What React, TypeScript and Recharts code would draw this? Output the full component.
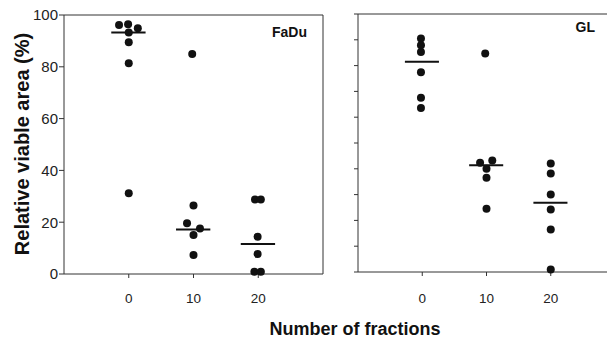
import { ScatterChart, Scatter, XAxis, YAxis, ReferenceLine } from 'recharts'

// fractions (with the small horizontal jitter used in the figure) and relative viable area (%)
const faduPoints = [
  { x: -1.5, y: 96.1 }, { x: -0.1, y: 96.4 }, { x: 1.4, y: 94.9 }, { x: 0, y: 93.2 },
  { x: 0, y: 89.5 }, { x: 0, y: 81.4 }, { x: 0, y: 31.2 },
  { x: 9.8, y: 84.9 }, { x: 10, y: 26.4 }, { x: 9.0, y: 19.6 }, { x: 11.0, y: 17.6 },
  { x: 10, y: 15.1 }, { x: 10, y: 7.3 },
  { x: 19.5, y: 28.8 }, { x: 20.4, y: 28.8 }, { x: 19.9, y: 14.4 }, { x: 19.9, y: 7.7 },
  { x: 19.4, y: 0.9 }, { x: 20.4, y: 0.9 },
]

const glPoints = [
  { x: -0.2, y: 90.5 }, { x: -0.2, y: 87.9 }, { x: -0.2, y: 85.3 }, { x: -0.2, y: 77.4 },
  { x: -0.2, y: 67.5 }, { x: -0.2, y: 63.6 },
  { x: 9.8, y: 84.7 }, { x: 9.0, y: 42.3 }, { x: 10.9, y: 43.2 }, { x: 10, y: 40.0 },
  { x: 10, y: 36.5 }, { x: 10, y: 24.5 },
  { x: 20, y: 42.1 }, { x: 20, y: 38.2 }, { x: 20, y: 30.0 }, { x: 20, y: 24.2 },
  { x: 20, y: 16.5 }, { x: 20, y: 1.0 },
]

const groups = [0, 10, 20]
const faduMedians = [93.2, 17.2, 11.6]
const glMedians = [81.5, 41.4, 26.8]

const xTicks = [0, 10, 20]
const yTicksLabelled = [0, 20, 40, 60, 80, 100]
const yTicksMinor = [0, 10, 20, 30, 40, 50, 60, 70, 80, 90, 100]

const FONT = '"Liberation Sans", Arial, Helvetica, sans-serif'
const INK = '#111'
const AXIS = '#333'

const Dot = (props: any) => <circle cx={props.cx} cy={props.cy} r={4} fill={INK} />

function medianLines(values: number[]) {
  return groups.map((g, i) => (
    <ReferenceLine
      key={g}
      segment={[{ x: g - 2.7, y: values[i] }, { x: g + 2.6, y: values[i] }]}
      stroke={INK}
      strokeWidth={2}
    />
  ))
}

function FaduPanel() {
  return (
    <ScatterChart width={340} height={338} margin={{ top: 15, right: 17, left: 0, bottom: 34 }}>
      <XAxis
        type="number"
        dataKey="x"
        domain={[-10, 30]}
        ticks={xTicks}
        height={30}
        stroke={AXIS}
        tickSize={4}
        tickMargin={15}
        tick={{ fontSize: 13.5, fill: '#222', fontFamily: FONT }}
      />
      <YAxis
        type="number"
        dataKey="y"
        domain={[0, 100]}
        ticks={yTicksLabelled}
        width={64}
        stroke={AXIS}
        tickSize={5}
        tickMargin={1}
        tick={{ fontSize: 15, fill: '#222', fontFamily: FONT }}
      />
      <ReferenceLine y={100} stroke={AXIS} strokeWidth={1} />
      <ReferenceLine x={30} stroke={AXIS} strokeWidth={1} />
      {medianLines(faduMedians)}
      <Scatter data={faduPoints} shape={Dot} isAnimationActive={false} />
    </ScatterChart>
  )
}

function GlPanel() {
  return (
    <ScatterChart width={285} height={338} margin={{ top: 14, right: 10, left: 0, bottom: 36 }}>
      <XAxis
        type="number"
        dataKey="x"
        domain={[-10, 30]}
        ticks={xTicks}
        height={30}
        stroke={AXIS}
        tickSize={4}
        tickMargin={17}
        tick={{ fontSize: 13.5, fill: '#222', fontFamily: FONT }}
      />
      <YAxis
        type="number"
        dataKey="y"
        domain={[0, 100]}
        ticks={yTicksMinor}
        width={18}
        stroke={AXIS}
        tickSize={4}
        tickFormatter={() => ''}
      />
      <ReferenceLine y={100} stroke={AXIS} strokeWidth={1} />
      {medianLines(glMedians)}
      <Scatter data={glPoints} shape={Dot} isAnimationActive={false} />
    </ScatterChart>
  )
}

export default function App() {
  return (
    <div
      style={{
        position: 'fixed',
        left: 0,
        top: 0,
        width: 607,
        height: 338,
        overflow: 'hidden',
        background: '#fff',
        fontFamily: FONT,
      }}
    >
      <div style={{ position: 'absolute', left: 0, top: 0 }}>
        <FaduPanel />
      </div>
      <div style={{ position: 'absolute', left: 340, top: 0 }}>
        <GlPanel />
      </div>
      <svg
        width={607}
        height={338}
        style={{ position: 'absolute', left: 0, top: 0, pointerEvents: 'none' }}
      >
        <text x={307} y={37} textAnchor="end" fontSize={14} fontWeight="bold" fill={INK} fontFamily={FONT}>
          FaDu
        </text>
        <text x={595} y={32} textAnchor="end" fontSize={14} fontWeight="bold" fill={INK} fontFamily={FONT}>
          GL
        </text>
        <text x={355} y={335} textAnchor="middle" fontSize={18} fontWeight="bold" fill={INK} fontFamily={FONT}>
          Number of fractions
        </text>
        <text
          x={29}
          y={144}
          textAnchor="middle"
          transform="rotate(-90 29 144)"
          fontSize={20}
          fontWeight="bold"
          fill={INK}
          fontFamily={FONT}
        >
          Relative viable area (%)
        </text>
      </svg>
    </div>
  )
}
